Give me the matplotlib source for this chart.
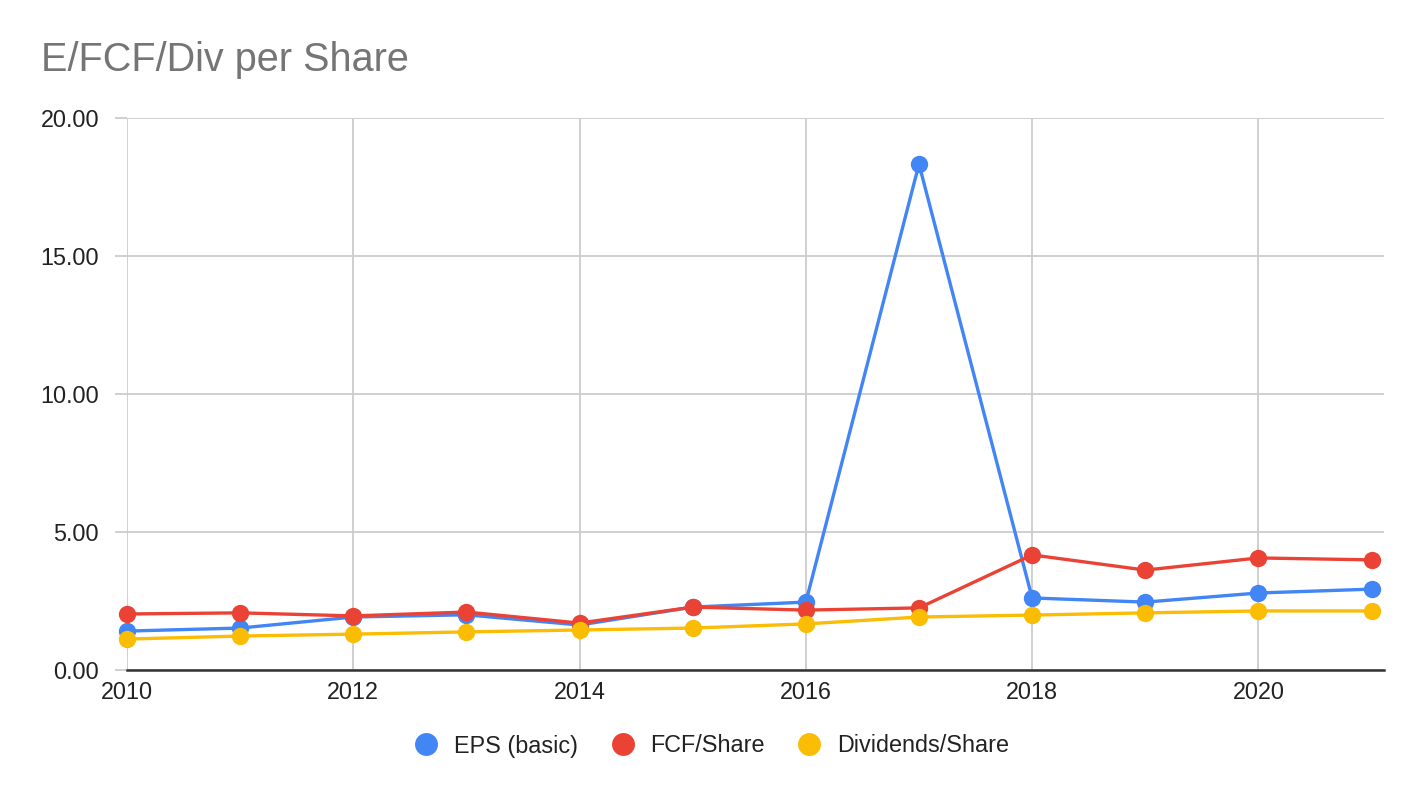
import matplotlib
matplotlib.use("Agg")
import matplotlib.pyplot as plt
from matplotlib.lines import Line2D

plt.rcParams['font.family'] = ['Liberation Sans', 'DejaVu Sans']

years = [2010, 2011, 2012, 2013, 2014, 2015, 2016, 2017, 2018, 2019, 2020, 2021]
eps = [1.41, 1.52, 1.92, 2.00, 1.63, 2.28, 2.46, 18.33, 2.61, 2.46, 2.79, 2.93]
fcf = [2.03, 2.07, 1.96, 2.10, 1.70, 2.28, 2.17, 2.25, 4.17, 3.62, 4.06, 3.99]
div = [1.12, 1.23, 1.30, 1.38, 1.45, 1.52, 1.67, 1.92, 1.99, 2.07, 2.14, 2.14]
series_names = ["EPS (basic)", "FCF/Share", "Dividends/Share"]
colors = ["#4285F4", "#EA4335", "#FBBC04"]
x_ticks = [2010, 2012, 2014, 2016, 2018, 2020]
y_ticks = [0, 5, 10, 15, 20]

W, H = 1424, 798
fig = plt.figure(figsize=(W / 100, H / 100), dpi=100)
ax = fig.add_axes([127 / W, 1 - 670 / H, (1384 - 127) / W, (670 - 118) / H])

for vals, name, c in zip([eps, fcf, div], series_names, colors):
    ax.plot(years, vals, color=c, lw=2.4, marker='o', markersize=12.5,
            markeredgewidth=0, label=name, clip_on=False, zorder=3)

ax.set_xlim(2010, 2021.11)
ax.set_ylim(0, 20)
ax.set_xticks(x_ticks)
ax.set_xticklabels([str(t) for t in x_ticks])
ax.set_yticks(y_ticks)
ax.set_yticklabels([f"{t:.2f}" for t in y_ticks])
ax.grid(True, color="#cccccc", lw=1.3, zorder=0)
ax.set_axisbelow(True)
for s in ['top', 'right', 'left']:
    ax.spines[s].set_visible(False)
ax.spines['bottom'].set_color("#333333")
ax.spines['bottom'].set_linewidth(1.8)
ax.spines['bottom'].set_zorder(2)
ax.tick_params(axis='y', length=9, color="#cccccc", width=1.3, pad=11, labelsize=16.8, labelcolor="#222222")
ax.tick_params(axis='x', length=0, pad=8, labelsize=16.8, labelcolor="#222222")

fig.text(41 / W, 1 - 60 / H, "E/FCF/Div per Share", fontsize=28.5, color="#757575",
         ha='left', va='center')

handles = [Line2D([], [], ls='none', marker='o', markersize=16.5, markeredgewidth=0, color=c)
           for c in colors]
fig.legend(handles, series_names, loc='center', bbox_to_anchor=(712 / W, 1 - 746 / H),
           ncol=3, frameon=False, fontsize=16.8, handletextpad=0.7, columnspacing=1.4,
           handlelength=1.0, labelcolor="#222222")

fig.savefig("out.png", dpi=100)
